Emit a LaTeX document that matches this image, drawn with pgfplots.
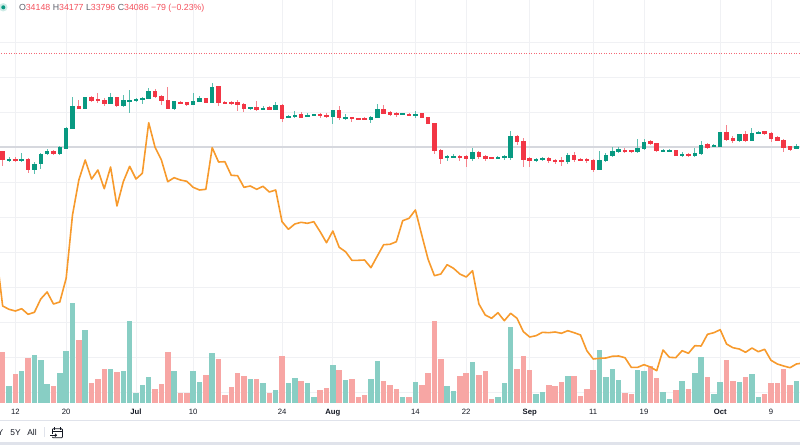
\documentclass[border=0pt]{standalone}
\usepackage{fontspec}
\setmainfont{Liberation Sans}
\usepackage{pgfplots}
\pgfplotsset{compat=1.18}
\usepackage{pgfplotstable}
\usetikzlibrary{arrows.meta}
\definecolor{tvgreen}{HTML}{089981}
\definecolor{tvred}{HTML}{F23645}
\definecolor{wickg}{HTML}{5CBFAF}
\definecolor{wickr}{HTML}{F5838C}
\definecolor{volg}{HTML}{88CEC4}
\definecolor{volr}{HTML}{F7A6A4}
\definecolor{tvorange}{HTML}{F79A2C}
\definecolor{tvgrid}{HTML}{F0F1F4}
\definecolor{tvline}{HTML}{D6D8DE}
\definecolor{tvtext}{HTML}{131722}
\definecolor{tvlab}{HTML}{5D606B}
\definecolor{tvsep}{HTML}{E0E3EB}
\definecolor{legred}{HTML}{F4505C}

% pixel-based values (y measured from the top of the chart pane)
\pgfplotstableread{
d o h l c v
-20 160.7 157.3 162.3 159.3 386
-18 160.3 152.7 161.7 159 371.3
-16 170 162.3 174 164 355.3
-15 164 153.3 168.7 154.3 360.3
-14 153.7 148.7 155 151.7 384
-12 154 146 155 147.3 372.7
-11 148.3 127.3 149.3 128.7 351
-10 129 96.7 129 106 302.7
-8 108.7 96.7 109.3 97.3 330
-4 103.3 93.3 104.3 97.3 368.7
-2 106 95 106.7 100.7 371
-1 101.3 90 112.7 100 321
0 100.7 98.3 101.7 99.3 393.3
1 99.7 96.7 104 98.3 385.3
2 98.7 88.3 99.3 91.3 377.3
6 108.3 100.7 110 101.7 371.3
9 104.7 93.3 105.3 101 371.3
10 101.3 96 102.3 98.7 382
12 102.3 83.3 102.3 87.3 352.7
18 109 106.7 110 107.7 379.3
20 109.3 106 110 108 383.3
22 109.3 102.3 110 105.7 390
24 117.7 115 118.3 116.3 383.3
25 117 111 117.7 115 378
27 116.7 112.7 117.3 115.3 382.7
28 115.7 113.7 116.3 114.7 396.7
31 117 110 124.3 110.7 365
33 118.3 114.3 120 117.3 380.3
37 119.3 116 123.3 117 379
38 117.3 104 118.3 109.7 361
42 114.7 112.7 115 113.3 397.3
44 115.3 111.3 118.3 114 382
49 157.7 155 160.7 156.3 386
50 157.3 154.3 158.3 156 391.3
53 158.3 147.7 160.7 152.7 362
57 158.3 156.3 159 157 396.7
58 158 155 160 156.7 383.3
59 157.3 130.7 160 136 327
63 161 158.3 161.7 159.7 393.7
64 160 156.7 160.7 158 391.7
68 162 153.3 163.7 155 375.7
73 169.3 151 170 160 350
74 160.3 153.3 161.7 155.3 377.3
75 156 146.7 156.7 151 368.7
76 151.7 146.7 152.7 149.3 380
79 152 139.3 152.7 148.3 370
80 149 139.3 150 142.7 371.3
83 151 148.7 151.7 150 392
84 151 149.3 151.7 150 399
86 156 152.3 157.3 154 381.3
88 156 147.7 157.3 153.3 372.7
89 154 141 155 145 357.3
91 147 144 147.3 145.7 394.3
92 146.3 131.7 147 132.3 382
95 140.7 134 141.7 134.7 382
97 140.7 128.3 141.3 133 374.3
98 133 131.3 133.7 132 397.3
104 148.7 144 149.3 146.7 381.3
}\upcandles

\pgfplotstableread{
d o h l c v
-21 151.7 151 165.7 160 352.3
-19 159.3 157.3 162 160.7 374
-17 159.3 158.3 173.3 170 357.7
-13 151.7 150 154.7 154 386
-9 106 100 109.3 108.7 340.3
-7 97.7 96 101.7 100.3 383.3
-6 99 93.3 103.3 101 378.7
-5 100 98.3 106 104 368.7
-3 97.7 97.3 106.7 106 372
3 91.3 89.3 98 96.7 389
4 96.7 95 105 100.7 384
5 100.7 87.3 109 108.3 351.7
7 102 101 104.3 103.3 393.3
8 102.3 101.7 105.7 104.7 392.7
11 98.7 98 103.3 102.3 374.7
13 86.7 86 106 102.3 358.7
14 102 101.3 103.3 103 395.3
15 102.3 101.3 104.7 103.7 387
16 102.7 100 110.7 104.7 373.3
17 104.3 103.3 112.3 108.7 376
19 107.3 100.7 111.3 110 379.3
21 107.3 106 110 109.3 392.7
23 105 104.3 121.7 118.3 356
26 114.7 112.3 118.3 117.3 381.3
29 114.7 113.3 118.3 116 390
30 115.3 113.3 117.7 116.7 388
32 110.7 106 120 118 370
34 117.7 116.7 121.7 119 379
35 118.7 118.3 120 119.7 397.3
36 118.7 117.3 120 119.7 395
39 109.7 105 114.3 113.3 380.7
40 112.3 111 115.7 114.3 385
41 113.3 111.7 116.7 114.7 389
43 114 113.3 116.3 116 397.3
45 113.7 113.3 118.3 117.7 385
46 117.3 116.7 124 123.3 373.3
47 123.3 122.7 154 150.7 321
48 150 149.3 164 158.3 359
51 156 155 160.7 157.3 376
52 156.7 155.3 166.7 158.3 373
54 152.7 151 159.3 156.7 375
55 156 155 161 158.3 370.7
56 157.7 157.3 159.3 158.7 398.7
60 136 135 145 141.7 368.7
61 141 138.3 166.7 160 356
62 158.7 156.7 166.7 161 370
65 158 157.3 162.7 161 385
66 160.3 159 164 161.7 386
67 160 157.3 165.7 161 382
69 155.3 152 162 160 375.7
70 159 158.3 160.7 160.3 396
71 159.3 158 162.7 160.7 388.7
72 160 159 172.3 169.3 369.7
77 150 148.3 152.7 151.7 393.3
78 150.7 150 152.7 152 394.3
81 141.7 140 145 143.3 365.7
82 143.3 142.7 152.3 151 377.7
85 150.7 150 156 155.3 390
87 154 153.3 156.7 156 388.7
90 144.7 142.7 148.7 147.3 377.3
93 132.3 124.7 140.7 140 360.3
94 138.3 136 142.7 140.7 381
96 134.7 131 141.7 141 377.3
99 131.7 131 135 133.3 394
100 133 132.3 141.7 138.7 383.3
101 137.3 136 141.3 140.7 383.3
102 140 139.3 151.7 147.3 369
103 146.7 146 151.3 149.3 385
}\downcandles

\pgfplotstableread{
d y
-22 252.3
-21 306
-20 309.3
-19 311
-18 308.7
-17 314.3
-16 312.3
-15 299
-14 292
-13 304
-12 302
-11 278.3
-10 215
-9 180
-8 160
-7 179
-6 170
-5 188.7
-4 167
-3 206
-2 181.7
-1 166.3
0 179
1 173.3
2 122.7
3 147.3
4 160
5 181.7
6 177.7
7 180
8 181.3
9 187.3
10 190
11 189.3
12 147.7
13 162
14 161.7
15 175.3
16 175.7
17 187.3
18 186
19 189.3
20 186.3
21 192
22 190
23 221.7
24 229.3
25 224
26 222.3
27 223.3
28 221.7
29 231.7
30 242.7
31 231
32 247.3
33 251.7
34 260.3
35 260.3
36 260
37 267.7
38 256
39 244.7
40 244.3
41 241.7
42 220.7
43 218.3
44 210
45 235
46 259.3
47 275.7
48 274
49 264.7
50 268.3
51 274
52 277
53 270.7
54 304
55 315
56 318.3
57 312.7
58 320.7
59 313.3
60 318.3
61 331.7
62 337
63 335.7
64 332.3
65 332.7
66 332
67 333.3
68 330.7
69 332.7
70 335
71 350.7
72 359
73 358.3
74 358
75 356.3
76 356
77 357.7
78 367.3
79 367.3
80 364.7
81 367
82 370.7
83 350
84 357.3
85 357.7
86 350.7
87 353.3
88 345.7
89 346
90 334.3
91 332.7
92 329.7
93 344
94 347.7
95 349
96 352.3
97 348
98 351.7
99 349.3
100 360.3
101 364
102 366
103 367.7
104 364
105 363
}\compline

\begin{document}
\begin{tikzpicture}
\begin{axis}[
  at={(0pt,21pt)}, anchor=south west,
  scale only axis, width=400pt, height=201.5pt,
  xmin=-21.4173, xmax=104.567,
  ymin=0, ymax=403, y dir=reverse,
  axis line style={draw=none},
  major tick length=0pt,
  xtick={-19,-11,0,9,23,31,44,52,62,72,80,92,100},
  xticklabels={12,20,\textbf{Jul},10,24,\textbf{Aug},14,22,\textbf{Sep},11,19,\textbf{Oct},9},
  xticklabel style={anchor=center, yshift=-4.6pt, inner sep=0pt,
    font=\fontsize{3.85pt}{4pt}\selectfont, text=tvtext},
  ytick={42,77,112,182,217,252,287,322,357,392},
  yticklabels={},
  grid=major,
  major grid style={color=tvgrid, line width=0.5pt},
  clip=true,
]
% price line and reference line
\addplot[color=tvline, line width=1pt] coordinates {(-22,147) (106,147)};
\addplot[color=tvred!75, line width=0.5pt, dash pattern=on 0.5pt off 0.75pt] coordinates {(-22,53.5) (106,53.5)};
% volume bars
\addplot[draw=none, mark=none, error bars/.cd, y dir=both, y explicit, error mark=none,
  error bar style={draw=volg, line width=2.75pt, solid}]
  table[x=d, y expr={(\thisrow{v}+403)/2}, y error expr={(403-\thisrow{v})/2}] {\upcandles};
\addplot[draw=none, mark=none, error bars/.cd, y dir=both, y explicit, error mark=none,
  error bar style={draw=volr, line width=2.75pt, solid}]
  table[x=d, y expr={(\thisrow{v}+403)/2}, y error expr={(403-\thisrow{v})/2}] {\downcandles};
% comparison line
\addplot[color=tvorange, line width=0.8pt, line join=round] table[x=d, y=y] {\compline};
% wicks
\addplot[draw=none, mark=none, error bars/.cd, y dir=both, y explicit, error mark=none,
  error bar style={draw=wickg, line width=0.5pt, solid}]
  table[x=d, y expr={(\thisrow{h}+\thisrow{l})/2}, y error expr={(\thisrow{l}-\thisrow{h})/2}] {\upcandles};
\addplot[draw=none, mark=none, error bars/.cd, y dir=both, y explicit, error mark=none,
  error bar style={draw=wickr, line width=0.5pt, solid}]
  table[x=d, y expr={(\thisrow{h}+\thisrow{l})/2}, y error expr={(\thisrow{l}-\thisrow{h})/2}] {\downcandles};
% bodies
\addplot[draw=none, mark=none, error bars/.cd, y dir=both, y explicit, error mark=none,
  error bar style={draw=tvgreen, line width=2.25pt, solid}]
  table[x=d, y expr={(\thisrow{o}+\thisrow{c})/2}, y error expr={abs(\thisrow{o}-\thisrow{c})/2+0.3}] {\upcandles};
\addplot[draw=none, mark=none, error bars/.cd, y dir=both, y explicit, error mark=none,
  error bar style={draw=tvred, line width=2.25pt, solid}]
  table[x=d, y expr={(\thisrow{o}+\thisrow{c})/2}, y error expr={abs(\thisrow{o}-\thisrow{c})/2+0.3}] {\downcandles};
\end{axis}
% legend row
\fill[tvgreen, opacity=0.2] (1.65pt,218.85pt) circle (2.1pt);
\fill[tvgreen] (1.65pt,218.85pt) circle (1pt);
\node[anchor=west, inner sep=0pt, font=\fontsize{4.4pt}{5pt}\selectfont] at (9.3pt,218.6pt)
  {\textcolor{tvlab}{O}\textcolor{legred}{34148} \textcolor{tvlab}{H}\textcolor{legred}{34177} \textcolor{tvlab}{L}\textcolor{legred}{33796} \textcolor{tvlab}{C}\textcolor{legred}{34086} \textcolor{legred}{−79 (−0.23\%)}};
% separators
\fill[tvsep] (0pt,12.2pt) rectangle (400pt,12.6pt);
\fill[tvsep] (0pt,0pt) rectangle (400pt,1.3pt);
% toolbar
\node[anchor=east, inner sep=0pt, text=tvtext, font=\fontsize{4.2pt}{5pt}\selectfont] at (1.8pt,6.3pt) {1Y};
\node[inner sep=0pt, text=tvtext, font=\fontsize{4.2pt}{5pt}\selectfont] at (7.8pt,6.3pt) {5Y};
\node[inner sep=0pt, text=tvtext, font=\fontsize{4.2pt}{5pt}\selectfont] at (16pt,6.3pt) {All};
\draw[tvsep, line width=0.4pt] (22pt,3.8pt) -- (22pt,8.8pt);
\draw[tvtext, line width=0.4pt, rounded corners=0.4pt] (26.2pt,5.6pt) -- (26.2pt,8.1pt) -- (31.2pt,8.1pt) -- (31.2pt,3.6pt) -- (26.2pt,3.6pt) -- (26.2pt,4.1pt);
\draw[tvtext, line width=0.4pt] (27.4pt,7.5pt) -- (27.4pt,9pt) (30pt,7.5pt) -- (30pt,9pt) (26.2pt,7.0pt) -- (31.2pt,7.0pt);
\draw[tvtext, line width=0.4pt, -{Straight Barb[length=0.8pt,width=1.4pt]}] (25.2pt,4.9pt) -- (28.6pt,4.9pt);
\pgfresetboundingbox
\useasboundingbox (0pt,0pt) rectangle (400pt,222.5pt);
\end{tikzpicture}
\end{document}
